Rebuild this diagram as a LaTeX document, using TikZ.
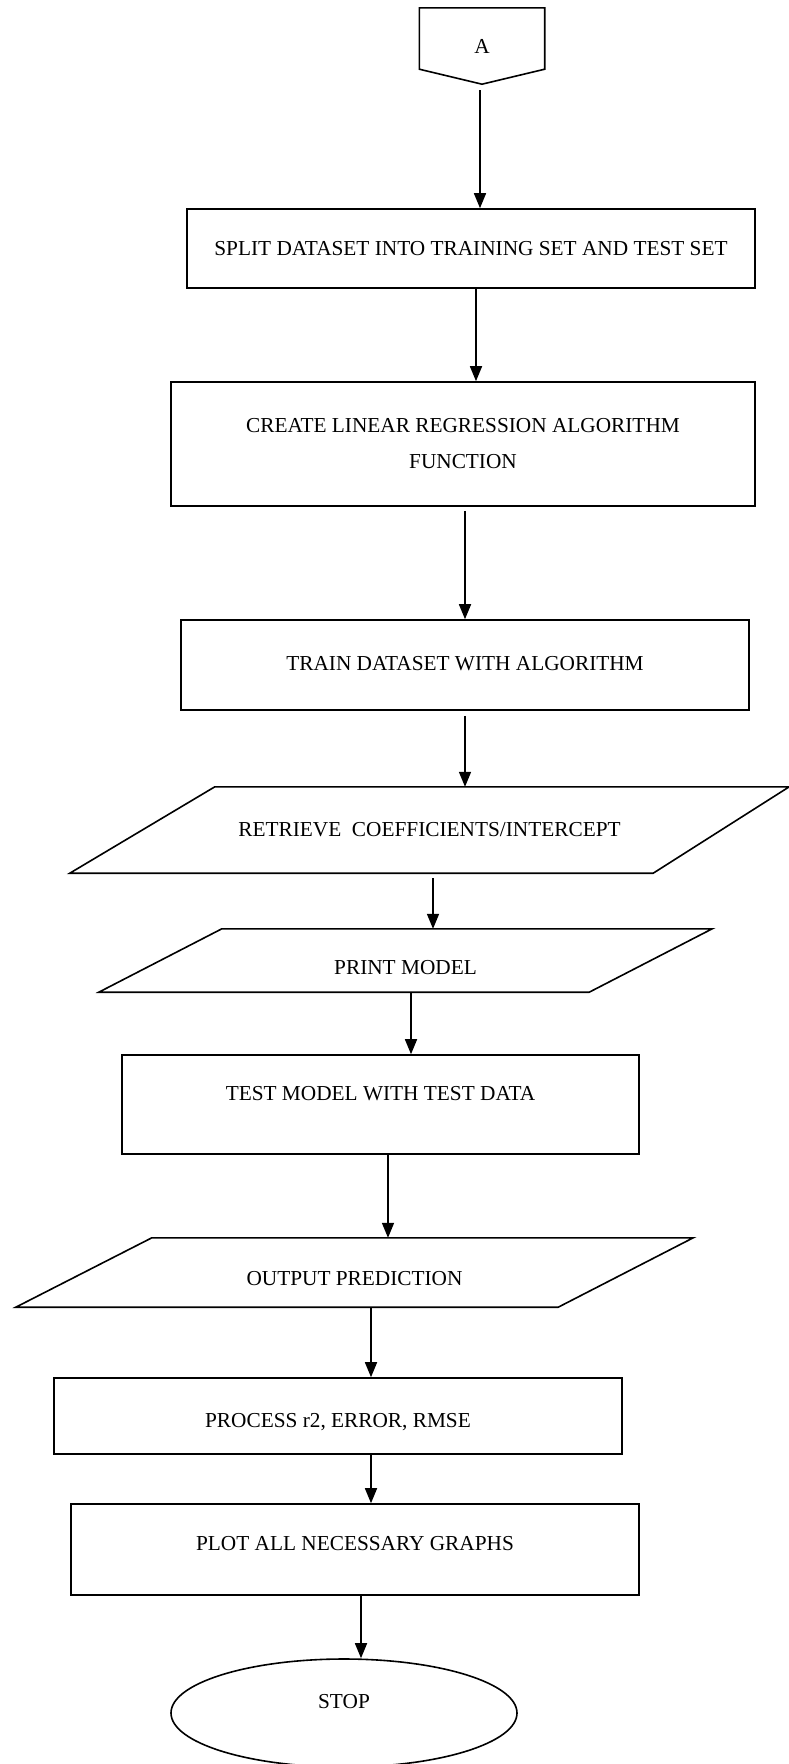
\documentclass[tikz,border=0pt]{standalone}
\usepackage{fontspec}
\setmainfont{Liberation Serif}
\usetikzlibrary{shapes.geometric, arrows.meta}

\tikzstyle{procbox}=[draw, line width=1.6pt, rectangle, inner sep=0pt, align=center, font=\fontsize{21.3}{36}\selectfont]
\tikzstyle{iobox}=[rectangle, inner sep=0pt, font=\fontsize{21.3}{36}\selectfont]
\tikzstyle{ioline}=[line width=1.6pt, line join=miter]
\tikzstyle{termbox}=[draw, line width=1.6pt, ellipse, inner sep=0pt, font=\fontsize{21.3}{36}\selectfont]
\tikzstyle{arrow}=[line width=1.6pt, -{Triangle[length=15pt, width=12pt]}]

\begin{document}
\begin{tikzpicture}[x=1pt, y=-1pt]
      \useasboundingbox (0,0) rectangle (789,1764);

      \node[inner sep=0pt, minimum width=125, minimum height=76, font=\fontsize{21.3}{36}\selectfont] (A) at (482,46) {A};
      \draw[line width=1.6pt] (A.north west) -- (A.north east) -- ([yshift=15pt]A.south east)
            -- (A.south) -- ([yshift=15pt]A.south west) -- cycle;

      \node[procbox, minimum width=568, minimum height=79] (split) at (471,248.5) {SPLIT DATASET INTO TRAINING SET AND TEST SET};
      \node[procbox, minimum width=584, minimum height=124] (create) at (463,444) {CREATE LINEAR REGRESSION ALGORITHM\\FUNCTION};
      \node[procbox, minimum width=568, minimum height=90, text height=14pt, text depth=4pt] (train) at (465,665) {TRAIN DATASET WITH ALGORITHM};
      \node[iobox, minimum width=719, minimum height=86] (retrieve) at (429.5,830) {RETRIEVE\ \ COEFFICIENTS/INTERCEPT};
      \node[iobox, minimum width=613, minimum height=63, text height=28pt, text depth=0pt] (printm) at (405.5,960.5) {PRINT MODEL};
      \node[procbox, minimum width=517, minimum height=99, text height=14pt, text depth=22pt] (test) at (380.5,1104.5) {TEST MODEL WITH TEST DATA};
      \node[iobox, minimum width=677, minimum height=69, text height=26pt, text depth=0pt] (output) at (354.5,1272.5) {OUTPUT PREDICTION};
      \node[procbox, minimum width=568, minimum height=76, text height=22pt, text depth=0pt] (process) at (338,1416) {PROCESS r2, ERROR, RMSE};
      \node[procbox, minimum width=568, minimum height=91, text height=14pt, text depth=12pt] (plot) at (355,1549.5) {PLOT ALL NECESSARY GRAPHS};
      \node[termbox, minimum width=346, minimum height=108, text height=14pt, text depth=24pt] (stop) at (344,1713) {STOP};

      \draw[ioline] ([xshift=145pt]retrieve.north west) -- (retrieve.north east)
            -- ([xshift=-136pt]retrieve.south east) -- (retrieve.south west) -- cycle;
      \draw[ioline] ([xshift=123pt]printm.north west) -- (printm.north east)
            -- ([xshift=-123pt]printm.south east) -- (printm.south west) -- cycle;
      \draw[ioline] ([xshift=136pt]output.north west) -- (output.north east)
            -- ([xshift=-135pt]output.south east) -- (output.south west) -- cycle;

      \draw[arrow, shorten <=6pt] ([xshift=-2pt]A.south) -- ([xshift=-2pt]A.south |- split.north);
      \draw[arrow] ([xshift=5pt]split.south) -- ([xshift=5pt]split.south |- create.north);
      \draw[arrow, shorten <=4pt] ([xshift=2pt]create.south) -- ([xshift=2pt]create.south |- train.north);
      \draw[arrow, shorten <=5pt] (train.south) -- (train.south |- retrieve.north);
      \draw[arrow, shorten <=5pt] ([xshift=3.5pt]retrieve.south) -- ([xshift=3.5pt]retrieve.south |- printm.north);
      \draw[arrow] ([xshift=5.5pt]printm.south) -- ([xshift=5.5pt]printm.south |- test.north);
      \draw[arrow] ([xshift=7.5pt]test.south) -- ([xshift=7.5pt]test.south |- output.north);
      \draw[arrow] ([xshift=16.5pt]output.south) -- ([xshift=16.5pt]output.south |- process.north);
      \draw[arrow] ([xshift=33pt]process.south) -- ([xshift=33pt]process.south |- plot.north);
      \draw[arrow] ([xshift=6pt]plot.south) -- ([xshift=6pt]plot.south |- stop.north);
    \end{tikzpicture}
\end{document}
